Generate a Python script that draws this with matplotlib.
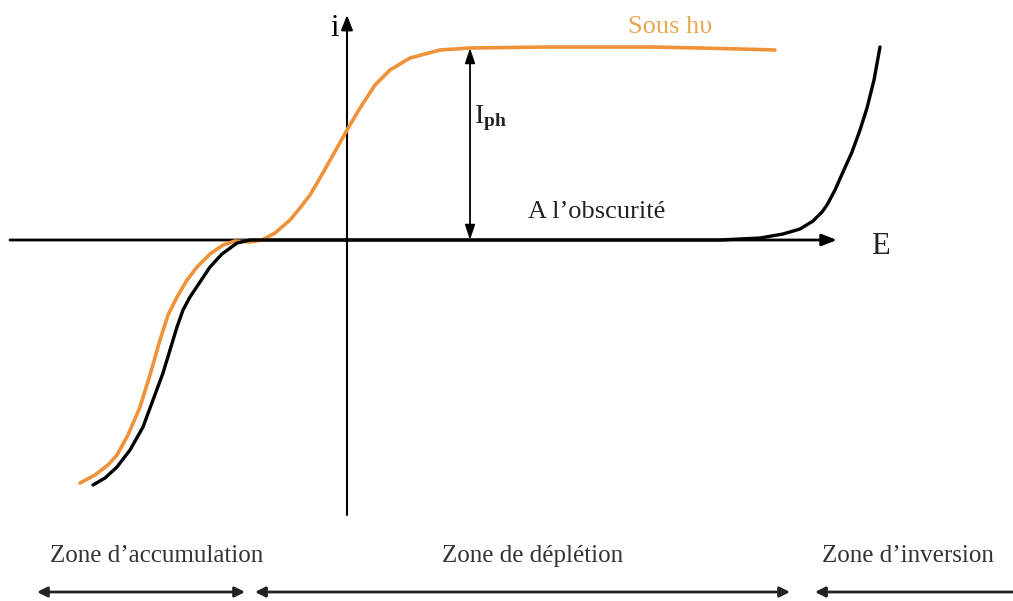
import matplotlib
matplotlib.use("Agg")
import matplotlib.pyplot as plt

# Data (E, i) in drawing units, origin at the axes crossing
dark_E = [-254, -242, -230, -217, -204, -194, -184, -177, -170, -164, -157, -147,
          -137, -125, -110, -97, 53, 253, 373, 413, 436, 453, 466, 475, 480, 488,
          496, 505, 513, 520, 527, 533]
dark_i = [-245, -238, -227, -210, -187, -160, -133, -110, -87, -70, -57, -42,
          -27, -14, -3, 0, 0, 0, 0, 2, 6, 11, 19, 28, 35, 50, 68, 88, 110, 132,
          160, 193]

light_E = [-267, -252, -239, -230, -219, -207, -197, -187, -179, -170, -160, -150,
           -137, -124, -112, -97, -85, -72, -57, -47, -37, -27, -14, 0, 13, 28,
           43, 63, 93, 123, 203, 303, 353, 393, 428]
light_i = [-243, -235, -225, -215, -195, -167, -135, -100, -75, -57, -40, -27,
           -14, -5, -1, -2, 0, 7, 20, 32, 45, 62, 85, 110, 132, 155, 170, 182,
           190, 192, 193, 193, 192, 191, 190]

zone_labels = ["Zone d\u2019accumulation", "Zone de d\u00e9pl\u00e9tion", "Zone d\u2019inversion"]
zone_spans = [(-310, -102), (-92, 443), (468, 680)]
zone_label_x = [-190, 186, 561]

orange = "#F0923A"
gold = "#E6A850"
serif = ["Liberation Serif", "DejaVu Serif"]

plt.rcParams["mathtext.fontset"] = "custom"
plt.rcParams["mathtext.rm"] = "Liberation Serif"
plt.rcParams["mathtext.bf"] = "Liberation Serif:bold"
plt.rcParams["mathtext.it"] = "Liberation Serif:italic"

fig = plt.figure(figsize=(10.13, 6.01), dpi=100)
ax = fig.add_axes([0, 0, 1, 1])
ax.set_xlim(-347, 666)
ax.set_ylim(-361, 240)
ax.axis("off")

# axes with arrows
ax.annotate("", xy=(490, 0), xytext=(-337, 0),
            arrowprops=dict(arrowstyle="-|>,head_length=0.9,head_width=0.35", lw=2, color="black",
                            shrinkA=0, shrinkB=0))
ax.annotate("", xy=(0, 225), xytext=(0, -275),
            arrowprops=dict(arrowstyle="-|>,head_length=0.9,head_width=0.35", lw=1.5, color="black",
                            shrinkA=0, shrinkB=0))

ax.plot(light_E, light_i, color=orange, lw=2.6, solid_capstyle="round", solid_joinstyle="round",
        zorder=3)
ax.plot(dark_E, dark_i, color="black", lw=2.4, solid_capstyle="round", solid_joinstyle="round",
        zorder=4)

# Iph arrow
ax.annotate("", xy=(123, 192), xytext=(123, 0),
            arrowprops=dict(arrowstyle="<|-|>,head_length=0.9,head_width=0.3", lw=1.3, color="black",
                            shrinkA=0, shrinkB=0), zorder=5)
ax.text(127, 122, r"I$_{\mathbf{ph}}$", fontsize=20, family=serif, va="center", ha="left",
        color="#222222")

ax.text(-17, 212, "i", fontsize=22, family=serif, ha="left", va="center")
ax.text(524, -6, "E", fontsize=22, family=serif, ha="left", va="center", color="#222222")
ax.text(281, 213, "Sous h\u03c5", fontsize=19, family=serif, ha="left", va="center", color=gold)
ax.text(181, 28, "A l\u2019obscurit\u00e9", fontsize=19, family=serif, ha="left", va="center",
        color="#222222")

for lab, (a, b), lx in zip(zone_labels, zone_spans, zone_label_x):
    ax.text(lx, -316, lab, fontsize=18, family=serif, ha="center", va="center",
            color="#333333")
    ax.annotate("", xy=(a, -352), xytext=(b, -352),
                arrowprops=dict(arrowstyle="<|-|>,head_length=0.6,head_width=0.3", lw=2,
                                color="#222222", shrinkA=0, shrinkB=0))

fig.savefig("out.png", dpi=100)
